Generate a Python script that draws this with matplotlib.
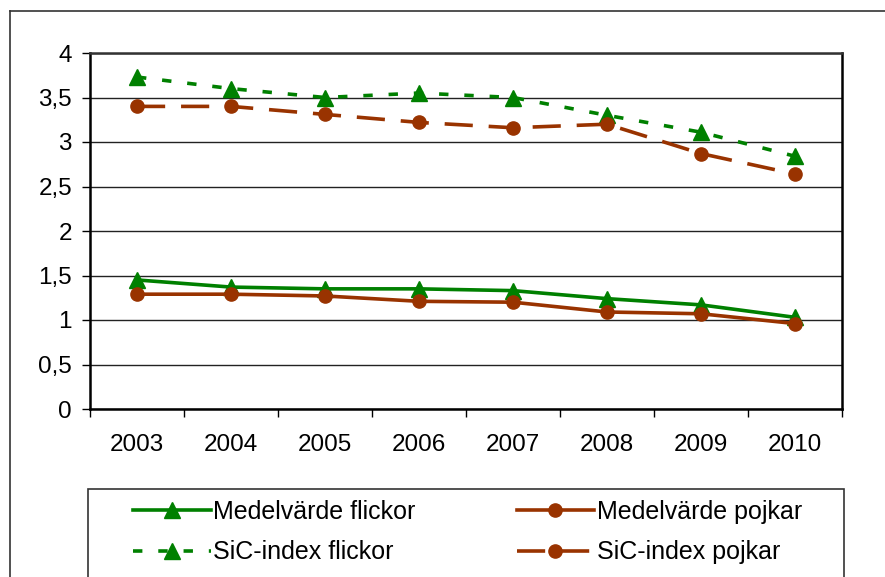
import matplotlib
matplotlib.use('Agg')
import matplotlib.pyplot as plt
from matplotlib.lines import Line2D
from matplotlib.patches import Rectangle

plt.rcParams['font.family'] = ['Liberation Sans', 'DejaVu Sans']

# data
years = ['2003', '2004', '2005', '2006', '2007', '2008', '2009', '2010']
medel_flickor = [1.45, 1.37, 1.35, 1.35, 1.33, 1.24, 1.17, 1.03]
medel_pojkar = [1.29, 1.29, 1.27, 1.21, 1.20, 1.09, 1.07, 0.96]
sic_flickor = [3.73, 3.60, 3.50, 3.55, 3.50, 3.30, 3.11, 2.84]
sic_pojkar = [3.40, 3.40, 3.31, 3.22, 3.16, 3.20, 2.87, 2.64]
yticks = [0, 0.5, 1, 1.5, 2, 2.5, 3, 3.5, 4]
ytick_labels = ['0', '0,5', '1', '1,5', '2', '2,5', '3', '3,5', '4']

green = '#008000'
brown = '#993300'

W, H = 885, 577
fig = plt.figure(figsize=(W / 100, H / 100), dpi=100)
ax = fig.add_axes([90 / W, 1 - 409 / H, (842 - 90) / W, (409 - 53) / H])

x = list(range(len(years)))
lw = 2.6
l1, = ax.plot(x, medel_flickor, color=green, lw=lw, marker='^', ms=11,
              label='Medelvärde flickor')
l2, = ax.plot(x, medel_pojkar, color=brown, lw=lw, marker='o', ms=9.5,
              label='Medelvärde pojkar')
l3, = ax.plot(x, sic_flickor, color=green, lw=lw, marker='^', ms=11,
              dashes=(2.6, 4.4), dash_capstyle='butt', label='SiC-index flickor')
l4, = ax.plot(x, sic_pojkar, color=brown, lw=lw, marker='o', ms=9.5,
              dashes=(7.8, 4.4), dash_capstyle='butt', label='SiC-index pojkar')

ax.set_xlim(-0.5, len(years) - 0.5)
ax.set_ylim(0, 4)
ax.set_yticks(yticks)
ax.set_yticklabels(ytick_labels)
ax.set_xticks(x)
ax.set_xticklabels(years)
ax.set_xticks([i - 0.5 for i in range(len(years) + 1)], minor=True)
ax.tick_params(axis='x', which='major', length=0, pad=18, labelsize=17.5)
ax.tick_params(axis='x', which='minor', length=6, width=1, direction='out')
ax.tick_params(axis='y', length=6, width=1, direction='out', pad=7, labelsize=17.5)
ax.grid(axis='y', color='#222222', lw=1)
ax.set_axisbelow(True)
for side in ['left', 'bottom', 'right']:
    ax.spines[side].set_linewidth(1.8)
    ax.spines[side].set_color('black')
ax.spines['top'].set_linewidth(1.8)
ax.spines['top'].set_color('#333333')

# legend, row-wise order
handles = [l1, l3, l2, l4]
fig.legend(handles=handles, labels=[h.get_label() for h in handles], ncol=2,
           loc='upper left', bbox_to_anchor=(133 / W, 1 - 500 / H),
           frameon=False, fontsize=18, handlelength=3.1, handletextpad=0.1,
           columnspacing=4.05, labelspacing=0.65, borderpad=0, borderaxespad=0)
fig.add_artist(Rectangle((88 / W, -0.05), (844 - 88) / W, 1 - 489 / H + 0.05,
                         transform=fig.transFigure, fill=False,
                         edgecolor='#333333', lw=1.2))

# outer chart border
fig.add_artist(Line2D([10 / W, 10 / W], [0, 1 - 11 / H], color='#333333', lw=1.2))
fig.add_artist(Line2D([10 / W, 1], [1 - 11 / H, 1 - 11 / H], color='#333333', lw=1.2))

fig.savefig('out.png', dpi=100)
